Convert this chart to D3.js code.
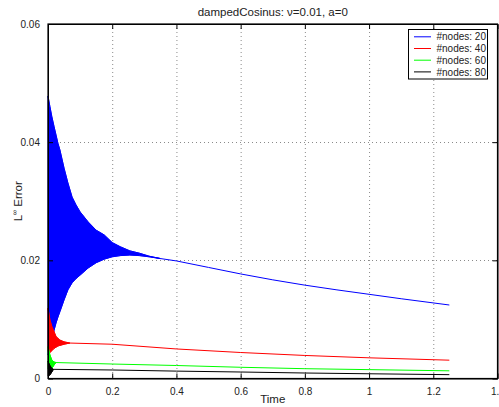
<!DOCTYPE html>
<html>
<head>
<meta charset="utf-8">
<script src="https://cdn.jsdelivr.net/npm/d3@7"></script>
<style>
  body { margin: 0; background: #fff; }
  svg { display: block; font-family: "Liberation Sans", Arial, sans-serif; }
</style>
</head>
<body>
<svg id="chart" width="499" height="407"></svg>
<script>
// values: upper envelope (and tail line) plus lower envelope of the oscillation
const seriesNames = ["#nodes: 20", "#nodes: 40", "#nodes: 60", "#nodes: 80"];

const blueTime  = [0, 0.006, 0.012, 0.019, 0.025, 0.031, 0.037, 0.05, 0.062, 0.075, 0.087, 0.1, 0.125, 0.15, 0.175, 0.2, 0.225, 0.255, 0.285, 0.315, 0.35, 0.4, 0.5, 0.6, 0.7, 0.8, 0.9, 1.0, 1.1, 1.25];
const blueUpper = [0.0478, 0.046, 0.0443, 0.0426, 0.0412, 0.0398, 0.0387, 0.0356, 0.0331, 0.0307, 0.0294, 0.0282, 0.0265, 0.0251, 0.0243, 0.023, 0.0223, 0.0216, 0.0212, 0.0207, 0.0203, 0.0199, 0.0188, 0.0177, 0.0167, 0.0158, 0.015, 0.01425, 0.0135, 0.01244];
const blueLower = [0.004, 0.005, 0.0065, 0.0082, 0.0094, 0.0104, 0.0113, 0.0133, 0.015, 0.0162, 0.0169, 0.0175, 0.0187, 0.0196, 0.0202, 0.0206, 0.0208, 0.0209, 0.0208, 0.0206, 0.0203];

const redTime  = [0, 0.006, 0.012, 0.019, 0.025, 0.031, 0.037, 0.05, 0.068, 0.2, 0.4, 0.6, 0.8, 1.0, 1.25];
const redUpper = [0.0119, 0.0099, 0.0088, 0.0079, 0.0071, 0.0068, 0.0065, 0.0062, 0.006, 0.0058, 0.005, 0.0044, 0.0039, 0.0035, 0.0031];
const redLower = [0.0046, 0.0044, 0.0047, 0.0051, 0.0053, 0.0055, 0.0056, 0.0058, 0.006];

const greenTime  = [0, 0.006, 0.012, 0.019, 0.025, 0.2, 0.4, 0.6, 0.8, 1.0, 1.25];
const greenUpper = [0.0054, 0.004, 0.0031, 0.0028, 0.0027, 0.00245, 0.0022, 0.0019, 0.00166, 0.0015, 0.0013];
const greenLower = [0.0016, 0.0014, 0.0017, 0.0023, 0.0027];

const blackTime  = [0, 0.006, 0.012, 0.017, 0.2, 0.4, 0.6, 0.8, 1.0, 1.25];
const blackUpper = [0.0029, 0.0022, 0.0017, 0.00155, 0.00144, 0.00125, 0.0011, 0.00093, 0.0008, 0.00065];
const blackLower = [0.0004, 0.0006, 0.0011, 0.00155];

const xTicks = [0, 0.2, 0.4, 0.6, 0.8, 1, 1.2, 1.4];
const yTicks = [0, 0.02, 0.04, 0.06];

const colors = ["#0000ff", "#ff0000", "#00ff00", "#000000"];

const fontFamily = '"Liberation Sans", Arial, sans-serif';
const margin = { top: 24, right: 1.5, bottom: 28.5, left: 48 };
const width = 499, height = 407;
const innerWidth = width - margin.left - margin.right;
const innerHeight = height - margin.top - margin.bottom;

const svg = d3.select("#chart");

const xScale = d3.scaleLinear().domain([0, 1.4]).range([0, innerWidth]);
const yScale = d3.scaleLinear().domain([0, 0.06]).range([innerHeight, 0]);

const innerChart = svg.append("g")
    .attr("transform", `translate(${margin.left}, ${margin.top})`);

// dotted grid
const grid = innerChart.append("g").attr("class", "grid");
grid.selectAll(".gx")
  .data(xTicks.slice(1, -1))
  .join("line")
    .attr("x1", d => xScale(d) + 0.5)
    .attr("x2", d => xScale(d) + 0.5)
    .attr("y1", 0)
    .attr("y2", innerHeight)
    .attr("stroke", "#8a8a8a")
    .attr("stroke-dasharray", "1 3");
grid.selectAll(".gy")
  .data(yTicks.slice(1, -1))
  .join("line")
    .attr("x1", 0)
    .attr("x2", innerWidth)
    .attr("y1", d => Math.round(yScale(d)) + 0.5)
    .attr("y2", d => Math.round(yScale(d)) + 0.5)
    .attr("stroke", "#8a8a8a")
    .attr("stroke-dasharray", "1 3");

// series
const allSeries = [
  { time: blueTime, upper: blueUpper, lower: blueLower },
  { time: redTime, upper: redUpper, lower: redLower },
  { time: greenTime, upper: greenUpper, lower: greenLower },
  { time: blackTime, upper: blackUpper, lower: blackLower }
];

const area = d3.area()
  .x(d => xScale(d.t))
  .y0(d => yScale(d.lo))
  .y1(d => yScale(d.hi));
const line = d3.line()
  .x(d => xScale(d[0]))
  .y(d => yScale(d[1]));

const plot = innerChart.append("g").attr("class", "series");
allSeries.forEach((s, i) => {
  const band = s.lower.map((lo, j) => ({ t: s.time[j], lo: lo, hi: s.upper[j] }));
  plot.append("path")
    .attr("d", area(band))
    .attr("fill", colors[i])
    .attr("stroke", colors[i])
    .attr("stroke-width", 0.8);
  plot.append("path")
    .attr("d", line(s.time.map((t, j) => [t, s.upper[j]])))
    .attr("fill", "none")
    .attr("stroke", colors[i])
    .attr("stroke-width", 1);
  plot.append("path")
    .attr("d", line(s.lower.map((lo, j) => [s.time[j], lo])))
    .attr("fill", "none")
    .attr("stroke", colors[i])
    .attr("stroke-width", 1);
});

// axes, ticks on all four sides pointing inward
const axisColor = "#000";
innerChart.append("g")
    .attr("transform", `translate(0, ${innerHeight})`)
    .attr("font-family", fontFamily)
    .call(d3.axisBottom(xScale).tickValues(xTicks).tickFormat(d3.format("")).tickSizeInner(-5).tickSizeOuter(0).tickPadding(9))
    .call(g => g.selectAll("text").style("font-size", "10px").attr("fill", "#222"));
innerChart.append("g")
    .call(d3.axisTop(xScale).tickValues(xTicks).tickSizeInner(-5).tickSizeOuter(0))
    .call(g => g.selectAll("text").remove());
innerChart.append("g")
    .attr("font-family", fontFamily)
    .call(d3.axisLeft(yScale).tickValues(yTicks).tickFormat(d3.format("")).tickSizeInner(-5).tickSizeOuter(0).tickPadding(8))
    .call(g => g.selectAll("text").style("font-size", "10px").attr("fill", "#222"));
innerChart.append("g")
    .attr("transform", `translate(${innerWidth}, 0)`)
    .call(d3.axisRight(yScale).tickValues(yTicks).tickSizeInner(-5).tickSizeOuter(0))
    .call(g => g.selectAll("text").remove());
innerChart.selectAll(".domain").attr("stroke", axisColor);
innerChart.selectAll("g").attr("font-family", fontFamily);

innerChart.append("rect")
    .attr("x", 0)
    .attr("y", 0)
    .attr("width", innerWidth)
    .attr("height", innerHeight)
    .attr("fill", "none")
    .attr("stroke", axisColor)
    .attr("stroke-width", 1.2);

// labels
svg.append("text")
    .attr("x", margin.left + innerWidth / 2)
    .attr("y", 16)
    .attr("text-anchor", "middle")
    .style("font-size", "11.5px")
    .attr("fill", "#222")
    .text("dampedCosinus: ν=0.01, a=0");
svg.append("text")
    .attr("x", margin.left + innerWidth / 2)
    .attr("y", 403)
    .attr("text-anchor", "middle")
    .style("font-size", "11.5px")
    .attr("fill", "#222")
    .text("Time");
const yLabel = svg.append("text")
    .attr("transform", `translate(22, ${margin.top + innerHeight / 2}) rotate(-90)`)
    .attr("text-anchor", "middle")
    .style("font-size", "11.5px")
    .attr("fill", "#222");
yLabel.append("tspan").text("L");
yLabel.append("tspan").attr("dy", -5).style("font-size", "7px").text("∞");
yLabel.append("tspan").attr("dy", 5).text(" Error");

// legend
const legend = svg.append("g")
    .attr("transform", "translate(408.5, 29.5)");
legend.append("rect")
    .attr("width", 79)
    .attr("height", 49.5)
    .attr("fill", "#fff")
    .attr("stroke", "#000")
    .attr("stroke-width", 1);
seriesNames.forEach((name, i) => {
  const yPos = 7.3 + i * 11.7;
  legend.append("line")
      .attr("x1", 5.5)
      .attr("x2", 22.5)
      .attr("y1", yPos)
      .attr("y2", yPos)
      .attr("stroke", colors[i])
      .attr("stroke-width", 1);
  legend.append("text")
      .attr("x", 28)
      .attr("y", yPos + 3.6)
      .style("font-size", "10px")
      .attr("fill", "#222")
      .text(name);
});
</script>
</body>
</html>
